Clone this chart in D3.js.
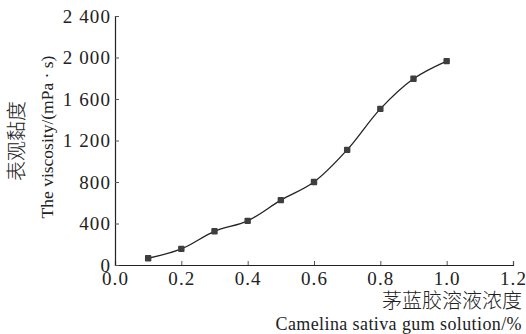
<!DOCTYPE html>
<html>
<head>
<meta charset="utf-8">
<script src="https://cdn.jsdelivr.net/npm/d3@7"></script>
<style>
  body { margin: 0; background: #fff; }
</style>
</head>
<body>
<div id="chart"></div>
<script>
// concentration of camelina gum solution (%)
const concentration = [0.1, 0.2, 0.3, 0.4, 0.5, 0.6, 0.7, 0.8, 0.9, 1.0];
// apparent viscosity (mPa·s)
const viscosity = [65, 155, 325, 425, 625, 800, 1110, 1505, 1795, 1965];
const xTicks = [0, 0.2, 0.4, 0.6, 0.8, 1.0, 1.2];
const yTicks = [0, 400, 800, 1200, 1600, 2000, 2400];

const width = 526, height = 334;
const margin = {top: 16, right: 13, bottom: 69, left: 115};
const serif = '"Liberation Serif", "Times New Roman", Times, serif';
const cjk = '"Noto Sans CJK SC", sans-serif';

const svg = d3.select('#chart').append('svg')
  .attr('width', width)
  .attr('height', height);

const x = d3.scaleLinear()
  .domain([0, 1.2])
  .range([margin.left, width - margin.right]);

const y = d3.scaleLinear()
  .domain([0, 2400])
  .range([height - margin.bottom, margin.top]);

const fmtY = d => d >= 1000 ? Math.floor(d / 1000) + ' ' + d3.format('03d')(d % 1000) : String(d);

// x axis, ticks pointing inward
const gx = svg.append('g')
  .attr('transform', `translate(0,${y(0)})`)
  .call(d3.axisBottom(x).tickValues(xTicks).tickSize(-4).tickPadding(7).tickFormat(d3.format('.1f')));
gx.select('.domain').attr('stroke', '#222').attr('stroke-width', 1.2);
gx.selectAll('.tick line').attr('stroke', '#555');
gx.selectAll('.tick text')
  .style('font-family', serif).style('font-size', '19px').style('letter-spacing', '1.1px')
  .attr('fill', '#222');

// y axis
const gy = svg.append('g')
  .attr('transform', `translate(${x(0)},0)`)
  .call(d3.axisLeft(y).tickValues(yTicks).tickSize(-4).tickPadding(4).tickFormat(fmtY));
gy.select('.domain').attr('stroke', '#222').attr('stroke-width', 1.2);
gy.selectAll('.tick line').attr('stroke', '#555');
gy.selectAll('.tick text')
  .style('font-family', serif).style('font-size', '19px').style('letter-spacing', '1.1px')
  .attr('fill', '#222');

// smoothed line through points
const points = concentration.map((c, i) => [c, viscosity[i]]);
const line = d3.line()
  .x(d => x(d[0]))
  .y(d => y(d[1]))
  .curve(d3.curveCatmullRom.alpha(0.5));

svg.append('path')
  .datum(points)
  .attr('fill', 'none')
  .attr('stroke', '#222')
  .attr('stroke-width', 1.3)
  .attr('d', line);

svg.selectAll('rect.pt')
  .data(points)
  .enter()
  .append('rect')
  .attr('class', 'pt')
  .attr('x', d => x(d[0]) - 3.2)
  .attr('y', d => y(d[1]) - 3.2)
  .attr('width', 6.4)
  .attr('height', 6.4)
  .attr('rx', 1)
  .attr('fill', '#3e3e3e');

// axis titles
svg.append('text')
  .attr('x', 522)
  .attr('y', 308)
  .attr('text-anchor', 'end')
  .style('font-family', cjk).style('font-size', '20px').style('font-weight', 300)
  .attr('fill', '#222')
  .text('茅蓝胶溶液浓度');

svg.append('text')
  .attr('x', 522)
  .attr('y', 330)
  .attr('text-anchor', 'end')
  .style('font-family', serif).style('font-size', '18px').style('letter-spacing', '0.4px')
  .attr('fill', '#222')
  .text('Camelina sativa gum solution/%');

svg.append('text')
  .attr('transform', 'translate(24,141) rotate(-90)')
  .attr('text-anchor', 'middle')
  .style('font-family', cjk).style('font-size', '20px').style('font-weight', 300)
  .attr('fill', '#222')
  .text('表观黏度');

svg.append('text')
  .attr('transform', 'translate(53,137) rotate(-90)')
  .attr('text-anchor', 'middle')
  .style('font-family', serif).style('font-size', '17.5px')
  .attr('fill', '#222')
  .text('The viscosity/(mPa · s)');
</script>
</body>
</html>
